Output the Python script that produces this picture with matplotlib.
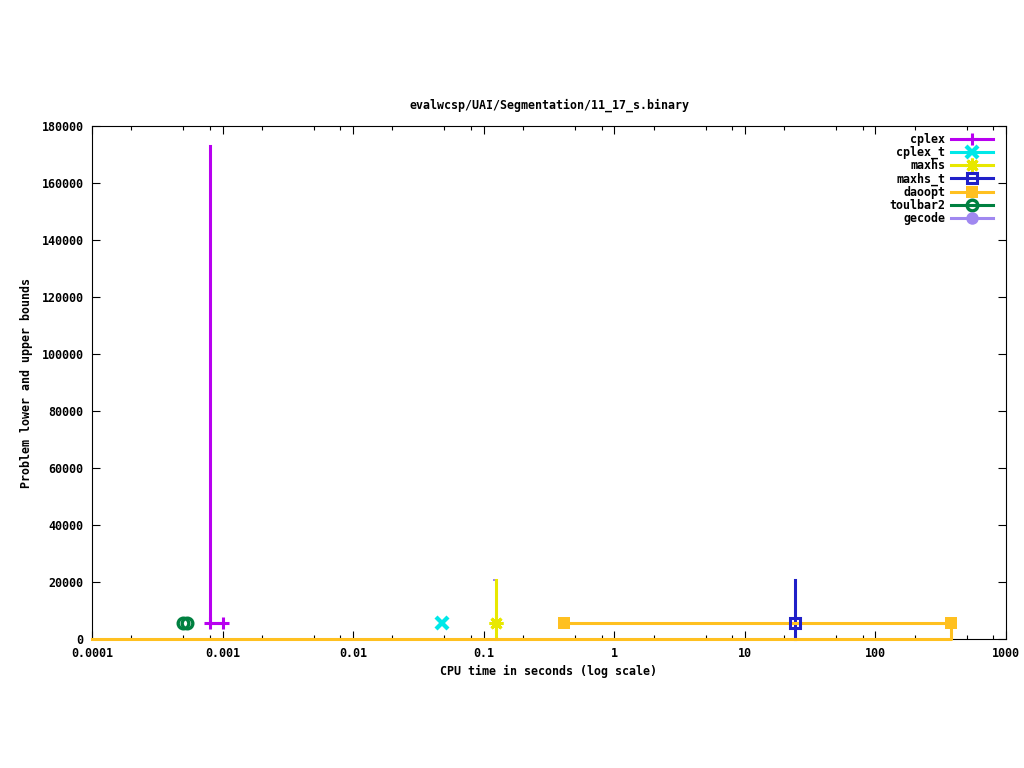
import matplotlib
matplotlib.use("Agg")
import matplotlib.pyplot as plt
from matplotlib.lines import Line2D
from matplotlib.ticker import FixedLocator, NullFormatter

# ── Data (time in seconds, bound values) ─────────────────────────────────────
cplex_line_t = [0.0008, 0.0008, 0.001]
cplex_line_v = [173000, 5600, 5600]
cplex_mark_t = [0.0008, 0.001]
cplex_mark_v = [5600, 5600]

cplex_t_mark_t = [0.048]
cplex_t_mark_v = [5600]

maxhs_line_t = [0.125, 0.125]
maxhs_line_v = [20700, 0]
maxhs_mark_t = [0.125]
maxhs_mark_v = [5600]

maxhs_t_line_t = [24.2, 24.2]
maxhs_t_line_v = [20700, 0]
maxhs_t_mark_t = [24.2]
maxhs_t_mark_v = [5600]

daoopt_ub_t = [0.41, 380]
daoopt_ub_v = [5600, 5600]
daoopt_lb_t = [0.0001, 380, 380]
daoopt_lb_v = [0, 0, 5600]
daoopt_mark_t = [0.41, 380]
daoopt_mark_v = [5600, 5600]

toulbar2_mark_t = [0.0005, 0.00053]
toulbar2_mark_v = [5600, 5600]

gecode_mark_t = [0.12]
gecode_mark_v = [20700]

x_ticks = [1e-4, 1e-3, 1e-2, 1e-1, 1, 10, 100, 1000]
x_tick_labels = ["0.0001", "0.001", "0.01", "0.1", "1", "10", "100", "1000"]
y_ticks = [0, 20000, 40000, 60000, 80000, 100000, 120000, 140000, 160000, 180000]

# ── Colours ─────────────────────────────────────────────────────────────────
C_CPLEX = "#b800f0"
C_CPLEX_T = "#00e8e8"
C_MAXHS = "#e8e800"
C_MAXHS_T = "#2020c8"
C_DAOOPT = "#ffc020"
C_TOUL = "#008040"
C_GECODE = "#a088f0"

FONT = "DejaVu Sans Mono"
FS = 8.4
LW = 2.2
MS = 9
MEW = 2.2

plt.rcParams["font.family"] = FONT
plt.rcParams["font.size"] = FS
plt.rcParams["font.weight"] = "bold"
plt.rcParams["axes.titleweight"] = "bold"
plt.rcParams["axes.labelweight"] = "bold"

fig = plt.figure(figsize=(10.24, 7.68), dpi=100)
ax = fig.add_axes([92 / 1024, 1 - 639 / 768, 914 / 1024, 513 / 768])

ax.set_xscale("log")
ax.set_xlim(1e-4, 1000)
ax.set_ylim(0, 180000)

# cplex
ax.plot(cplex_line_t, cplex_line_v, color=C_CPLEX, lw=LW, zorder=3, clip_on=False)
ax.plot(cplex_mark_t, cplex_mark_v, ls="none", marker="+", ms=MS, mew=MEW,
        color=C_CPLEX, zorder=4, clip_on=False)
# cplex_t
ax.plot(cplex_t_mark_t, cplex_t_mark_v, ls="none", marker="x", ms=MS * 0.9, mew=MEW * 1.4,
        color=C_CPLEX_T, zorder=4, clip_on=False)
# maxhs
ax.plot(maxhs_line_t, maxhs_line_v, color=C_MAXHS, lw=LW, zorder=3, clip_on=False)
ax.plot(maxhs_mark_t, maxhs_mark_v, ls="none", marker=(8, 2, 0), ms=MS * 1.1, mew=MEW,
        color=C_MAXHS, zorder=4, clip_on=False)
# maxhs_t
ax.plot(maxhs_t_line_t, maxhs_t_line_v, color=C_MAXHS_T, lw=LW, zorder=3, clip_on=False)
ax.plot(maxhs_t_mark_t, maxhs_t_mark_v, ls="none", marker="s", ms=MS * 0.8, mew=MEW,
        mfc="none", color=C_MAXHS_T, zorder=4, clip_on=False)
# daoopt
ax.plot(daoopt_ub_t, daoopt_ub_v, color=C_DAOOPT, lw=LW, zorder=3, clip_on=False)
ax.plot(daoopt_lb_t, daoopt_lb_v, color=C_DAOOPT, lw=LW, zorder=3, clip_on=False)
ax.plot(daoopt_mark_t, daoopt_mark_v, ls="none", marker="s", ms=MS, mew=0,
        color=C_DAOOPT, zorder=4, clip_on=False)
# toulbar2
ax.plot(toulbar2_mark_t, toulbar2_mark_v, ls="none", marker="o", ms=MS * 0.85, mew=MEW * 1.1,
        mfc="none", color=C_TOUL, zorder=4, clip_on=False)
# gecode
ax.plot(gecode_mark_t, gecode_mark_v, ls="none", marker="s", ms=1.6, mew=0,
        color=C_GECODE, zorder=4, clip_on=False)

# ── Axes styling ─────────────────────────────────────────────────────────────
ax.xaxis.set_major_locator(FixedLocator(x_ticks))
ax.set_xticklabels(x_tick_labels)
minor = [m * 10.0 ** e for e in range(-4, 3) for m in (2, 5, 8)]
ax.xaxis.set_minor_locator(FixedLocator(minor))
ax.xaxis.set_minor_formatter(NullFormatter())
ax.set_yticks(y_ticks)
ax.set_yticklabels([str(v) for v in y_ticks])

ax.tick_params(which="major", direction="in", length=5.8, width=0.8,
               top=True, right=True, labelsize=FS, pad=6)
ax.tick_params(which="minor", direction="in", length=2.9, width=0.8,
               top=True, right=True)
ax.tick_params(axis="y", pad=6)
for s in ax.spines.values():
    s.set_linewidth(0.8)
    s.set_color("black")

ax.set_xlabel("CPU time in seconds (log scale)", fontsize=FS, labelpad=3.5)
ax.set_ylabel("Problem lower and upper bounds", fontsize=FS, labelpad=6.5)
ax.set_title("evalwcsp/UAI/Segmentation/11_17_s.binary", fontsize=FS, pad=12.5)

# ── Legend ───────────────────────────────────────────────────────────────────
handles = [
    Line2D([], [], color=C_CPLEX, lw=LW, marker="+", ms=MS, mew=MEW),
    Line2D([], [], color=C_CPLEX_T, lw=LW, marker="x", ms=MS * 0.9, mew=MEW * 1.4),
    Line2D([], [], color=C_MAXHS, lw=LW, marker=(8, 2, 0), ms=MS * 1.1, mew=MEW),
    Line2D([], [], color=C_MAXHS_T, lw=LW, marker="s", ms=MS * 0.8, mew=MEW, mfc="none"),
    Line2D([], [], color=C_DAOOPT, lw=LW, marker="s", ms=MS, mew=0),
    Line2D([], [], color=C_TOUL, lw=LW, marker="o", ms=MS * 0.85, mew=MEW * 1.1, mfc="none"),
    Line2D([], [], color=C_GECODE, lw=LW, marker="o", ms=MS, mew=0),
]
labels = ["cplex", "cplex_t", "maxhs", "maxhs_t", "daoopt", "toulbar2", "gecode"]
ax.legend(handles, labels, loc="upper right", bbox_to_anchor=(0.986, 0.986),
          frameon=False, markerfirst=False, fontsize=FS, handlelength=3.6,
          handletextpad=0.5, labelspacing=0.0, borderpad=0, borderaxespad=0)

fig.savefig("out.png", dpi=100)
